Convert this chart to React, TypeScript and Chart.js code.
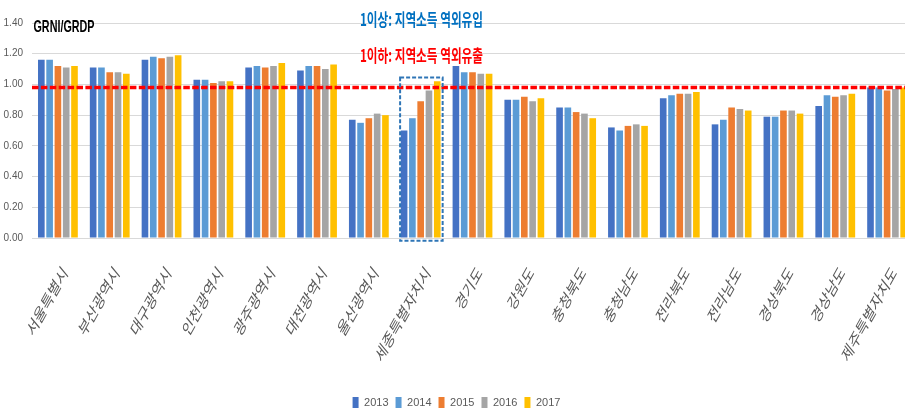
import React, { useEffect, useRef } from "react";
import { Chart, registerables } from "chart.js";

Chart.register(...registerables);

const categories = [
  "서울특별시", "부산광역시", "대구광역시", "인천광역시", "광주광역시", "대전광역시",
  "울산광역시", "세종특별자치시", "경기도", "강원도", "충청북도", "충청남도",
  "전라북도", "전라남도", "경상북도", "경상남도", "제주특별자치도",
];
const years = ["2013", "2014", "2015", "2016", "2017"];
const v2013 = [1.16, 1.11, 1.16, 1.03, 1.11, 1.09, 0.77, 0.70, 1.12, 0.90, 0.85, 0.72, 0.91, 0.74, 0.79, 0.86, 0.98];
const v2014 = [1.16, 1.11, 1.18, 1.03, 1.12, 1.12, 0.75, 0.78, 1.08, 0.90, 0.85, 0.70, 0.93, 0.77, 0.79, 0.93, 0.98];
const v2015 = [1.12, 1.08, 1.17, 1.01, 1.11, 1.12, 0.78, 0.89, 1.08, 0.92, 0.82, 0.73, 0.94, 0.85, 0.83, 0.92, 0.96];
const v2016 = [1.11, 1.08, 1.18, 1.02, 1.12, 1.10, 0.81, 0.96, 1.07, 0.89, 0.81, 0.74, 0.94, 0.84, 0.83, 0.93, 0.97];
const v2017 = [1.12, 1.07, 1.19, 1.02, 1.14, 1.13, 0.80, 1.02, 1.07, 0.91, 0.78, 0.73, 0.95, 0.83, 0.81, 0.94, 0.98];
const seriesValues = [v2013, v2014, v2015, v2016, v2017];
const seriesColors = ["#4472C4", "#5B9BD5", "#ED7D31", "#A5A5A5", "#FFC000"];

const yMin = 0;
const yMax = 1.4;
const yStep = 0.2;
const thresholdValue = 0.98;
const highlightIndex = 7;
const highlightTopValue = 1.045;

const titleText = "GRNI/GRDP";
const noteAbove = "1이상: 지역소득 역외유입";
const noteBelow = "1이하: 지역소득 역외유출";

const NARROW = "'Liberation Sans Narrow', 'Arial Narrow', 'Liberation Sans', Arial, sans-serif";
const KR = "'Noto Sans CJK KR', 'Noto Sans', sans-serif";

function squashText(
  ctx: CanvasRenderingContext2D,
  text: string,
  x: number,
  y: number,
  width: number,
  font: string,
  color: string,
  baseline: CanvasTextBaseline
) {
  ctx.save();
  ctx.font = font;
  const m = ctx.measureText(text).width;
  ctx.translate(x, y);
  ctx.scale(width / m, 1);
  ctx.fillStyle = color;
  ctx.textAlign = "left";
  ctx.textBaseline = baseline;
  ctx.fillText(text, 0, 0);
  ctx.restore();
}

const overlayPlugin = {
  id: "overlay",
  afterDatasetsDraw(chart: any) {
    const { ctx, chartArea, scales } = chart;
    const x = scales.x;
    const y = scales.y;
    ctx.save();
    // threshold dashed line
    const ty = y.getPixelForValue(thresholdValue);
    ctx.strokeStyle = "#FF0000";
    ctx.lineWidth = 3.5;
    ctx.setLineDash([6.5, 2.4]);
    ctx.beginPath();
    ctx.moveTo(chartArea.left, ty);
    ctx.lineTo(chartArea.right, ty);
    ctx.stroke();
    // highlight box
    const cw = x.width / categories.length;
    const cx = x.getPixelForValue(highlightIndex);
    const top = y.getPixelForValue(highlightTopValue);
    const bottom = y.getPixelForValue(0) + 2.8;
    ctx.strokeStyle = "#2E75B6";
    ctx.lineWidth = 2;
    ctx.setLineDash([4, 2]);
    ctx.strokeRect(cx - 0.397 * cw, top, 0.821 * cw, bottom - top);
    ctx.restore();
  },
  afterDraw(chart: any) {
    const { ctx, scales } = chart;
    const x = scales.x;
    // category labels
    const s = 0.68;
    const theta = (50.8 * Math.PI) / 180;
    ctx.save();
    ctx.fillStyle = "#595959";
    ctx.font = `18px ${KR}`;
    ctx.textAlign = "right";
    ctx.textBaseline = "middle";
    categories.forEach((label, i) => {
      const cx = x.getPixelForValue(i);
      ctx.save();
      ctx.translate(cx + 7, x.top + 31);
      ctx.scale(s, 1);
      ctx.rotate(-theta);
      ctx.fillText(label, 0, 0);
      ctx.restore();
    });
    ctx.restore();
    // title and notes
    squashText(ctx, titleText, 33.5, 31.5, 61, `bold 17px 'Liberation Sans', Arial, sans-serif`, "#000000", "alphabetic");
    squashText(ctx, noteAbove, 360, 19.5, 123, `bold 17px ${KR}`, "#0070C0", "middle");
    squashText(ctx, noteBelow, 360, 55.5, 123, `bold 17px ${KR}`, "#FF0000", "middle");
  },
};

export default function App() {
  const canvasRef = useRef<HTMLCanvasElement | null>(null);

  useEffect(() => {
    if (!canvasRef.current) return;
    const chart = new Chart(canvasRef.current, {
      type: "bar",
      data: {
        labels: categories,
        datasets: years.map((yr, i) => ({
          label: yr,
          data: seriesValues[i],
          backgroundColor: seriesColors[i],
          borderWidth: 0,
          barPercentage: 0.8,
          categoryPercentage: 0.8,
        })),
      },
      options: {
        responsive: false,
        animation: false,
        devicePixelRatio: 1,
        layout: { padding: { top: 23, right: 9, bottom: 0, left: 0 } },
        plugins: {
          legend: {
            position: "bottom",
            labels: {
              boxWidth: 6,
              boxHeight: 11,
              padding: 7,
              color: "#595959",
              font: { size: 11, family: NARROW },
            },
          },
          tooltip: { enabled: false },
          title: { display: false },
        },
        scales: {
          x: {
            grid: { display: false },
            border: { display: true, color: "#d9d9d9" },
            ticks: { display: false },
            afterFit: (scale: any) => {
              scale.height = 152;
            },
          },
          y: {
            min: yMin,
            max: yMax,
            grid: { color: "#d9d9d9", drawTicks: false },
            border: { display: false },
            ticks: {
              stepSize: yStep,
              padding: 9,
              color: "#595959",
              font: { size: 10, family: NARROW },
              callback: (v: any) => Number(v).toFixed(2),
            },
            afterFit: (scale: any) => {
              scale.width = 32;
            },
          },
        },
      },
      plugins: [overlayPlugin],
    });
    return () => chart.destroy();
  }, []);

  return (
    <div style={{ position: "fixed", left: 0, top: 0, width: 905, height: 410, overflow: "hidden", background: "#fff" }}>
      <canvas ref={canvasRef} width={922} height={418} style={{ width: 922, height: 418, display: "block" }} />
    </div>
  );
}
